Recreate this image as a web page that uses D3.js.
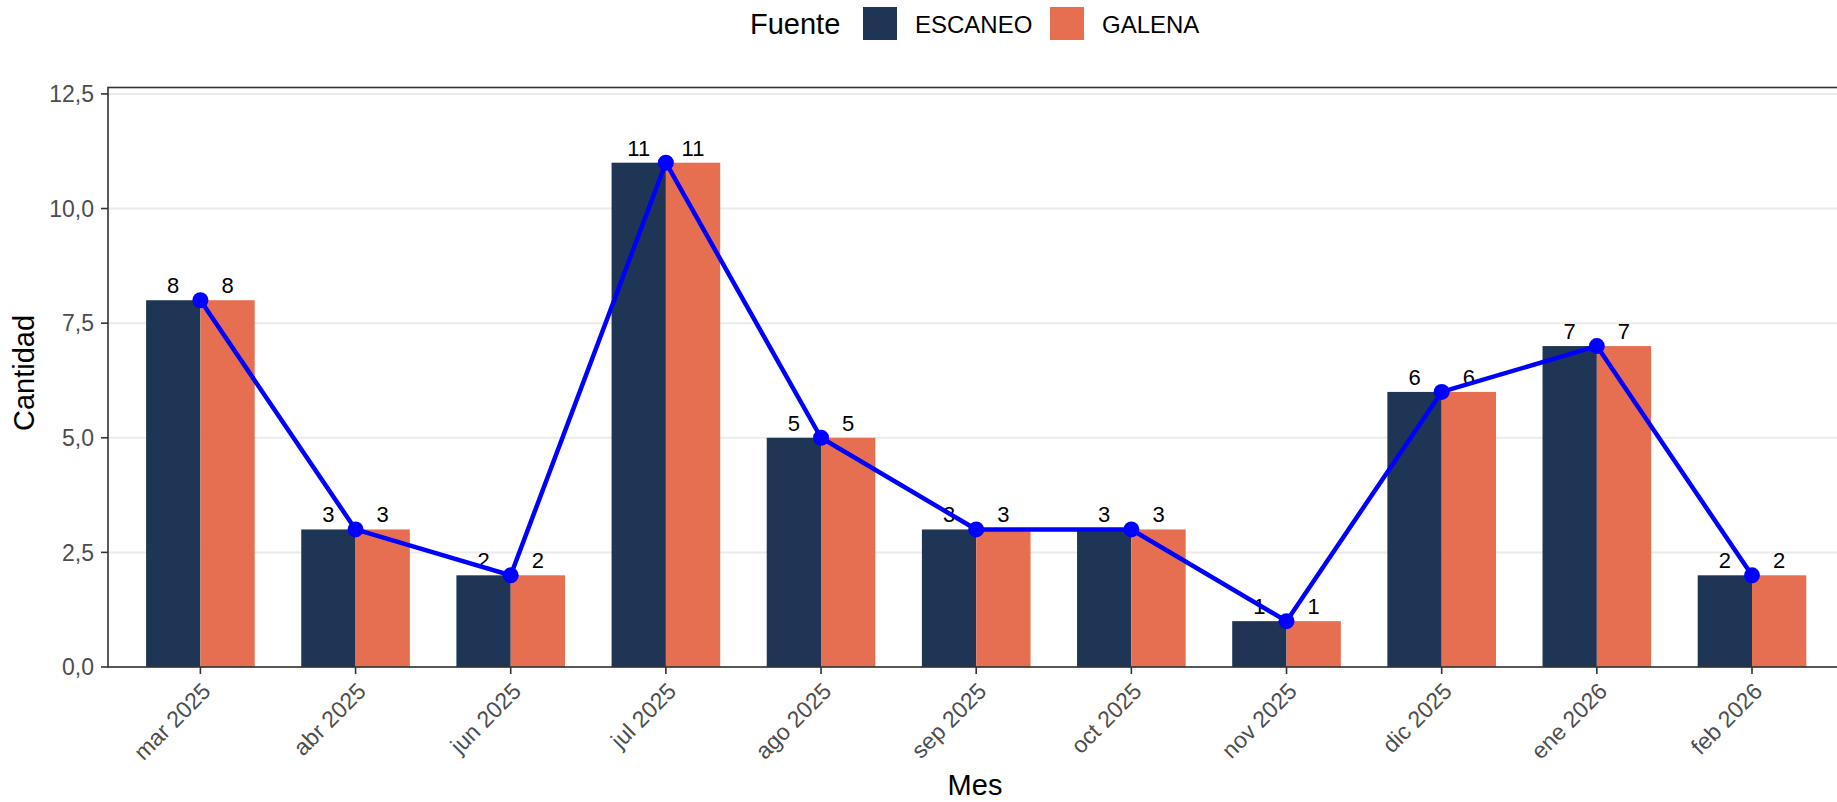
<!DOCTYPE html>
<html><head><meta charset="utf-8">
<script src="https://cdn.jsdelivr.net/npm/d3@7"></script>
<style>body{margin:0;background:#fff}svg{display:block}text{font-family:"Liberation Sans",Arial,sans-serif}</style>
</head><body>
<svg id="c" width="1837" height="802"></svg>
<script>
const months = ["mar 2025","abr 2025","jun 2025","jul 2025","ago 2025","sep 2025","oct 2025","nov 2025","dic 2025","ene 2026","feb 2026"];
const sources = ["ESCANEO","GALENA"];
const escaneo = [8,3,2,11,5,3,3,1,6,7,2];
const galena = [8,3,2,11,5,3,3,1,6,7,2];
const lineValues = [8,3,2,11,5,3,3,1,6,7,2];
const yTicks = [0,2.5,5,7.5,10,12.5];
const colors = {ESCANEO:"#1F3555", GALENA:"#E76F51"};

(function(){
const svg = d3.select("#c");
const pL = 108, pR = 1845, pT = 87.5, pB = 667;
const x = d3.scalePoint().domain(months).range([200.4, 1752]);
const step = x.step();
const xs = d3.scaleBand().domain(sources).range([-0.35*step, 0.35*step]).padding(0);
const y = d3.scaleLinear().domain([0, 12.64]).range([pB, pT]);
const fmt = v => d3.format(".1f")(v).replace(".", ",");

// grid
svg.append("g").selectAll("line").data(yTicks).join("line")
  .attr("x1", pL).attr("x2", pR).attr("y1", d=>y(d)).attr("y2", d=>y(d))
  .attr("stroke", "#EBEBEB").attr("stroke-width", 2);

// bars
const series = {ESCANEO: escaneo, GALENA: galena};
const bars = [];
months.forEach((m,i)=>sources.forEach(s=>bars.push({m, s, v: series[s][i]})));
svg.append("g").selectAll("rect").data(bars).join("rect")
  .attr("x", d=>x(d.m)+xs(d.s)).attr("width", xs.bandwidth())
  .attr("y", d=>y(d.v)).attr("height", d=>y(0)-y(d.v))
  .attr("fill", d=>colors[d.s]);

// value labels
svg.append("g").selectAll("text").data(bars).join("text")
  .attr("x", d=>x(d.m)+xs(d.s)+xs.bandwidth()/2).attr("y", d=>y(d.v)-7)
  .attr("text-anchor","middle").attr("font-size", 22).attr("fill","#000")
  .text(d=>d.v);

// line
const pts = months.map((m,i)=>({m, v: lineValues[i]}));
svg.append("path").datum(pts)
  .attr("d", d3.line().x(d=>x(d.m)).y(d=>y(d.v)))
  .attr("fill","none").attr("stroke","#0000FF").attr("stroke-width",4.5).attr("stroke-linejoin","round");
svg.append("g").selectAll("circle").data(pts).join("circle")
  .attr("cx", d=>x(d.m)).attr("cy", d=>y(d.v)).attr("r", 8).attr("fill","#0000FF");

// panel border
svg.append("rect").attr("x", pL).attr("y", pT).attr("width", pR-pL).attr("height", pB-pT)
  .attr("fill","none").attr("stroke","#333333").attr("stroke-width",1.6);

// y axis
const ya = svg.append("g");
ya.selectAll("line").data(yTicks).join("line")
  .attr("x1", pL-7).attr("x2", pL).attr("y1", d=>y(d)).attr("y2", d=>y(d))
  .attr("stroke","#333333").attr("stroke-width",1.6);
ya.selectAll("text").data(yTicks).join("text")
  .attr("x", pL-14).attr("y", d=>y(d)).attr("dy","0.36em")
  .attr("text-anchor","end").attr("font-size",23).attr("fill","#4D4D4D")
  .text(d=>fmt(d));

// x axis
const xa = svg.append("g");
xa.selectAll("line").data(months).join("line")
  .attr("x1", d=>x(d)).attr("x2", d=>x(d)).attr("y1", pB).attr("y2", pB+7)
  .attr("stroke","#333333").attr("stroke-width",1.6);
xa.selectAll("text").data(months).join("text")
  .attr("transform", d=>`translate(${x(d)},${pB+14}) rotate(-45)`)
  .attr("dy","0.72em").attr("text-anchor","end").attr("font-size",23).attr("fill","#4D4D4D")
  .text(d=>d);

// axis titles
svg.append("text").attr("x", 975).attr("y", 795).attr("text-anchor","middle")
  .attr("font-size",29).attr("fill","#000").text("Mes");
svg.append("text").attr("transform","translate(34,373) rotate(-90)").attr("text-anchor","middle")
  .attr("font-size",29).attr("fill","#000").text("Cantidad");

// legend
const lg = svg.append("g");
lg.append("text").attr("x", 750).attr("y", 24).attr("dy","0.36em").attr("font-size",29).attr("fill","#000").text("Fuente");
const keyX = [863, 1050];
sources.forEach((s,i)=>{
  lg.append("rect").attr("x", keyX[i]).attr("y", 7).attr("width", 34).attr("height", 33).attr("fill", colors[s]);
  lg.append("text").attr("x", keyX[i]+52).attr("y", 24).attr("dy","0.36em").attr("font-size",24).attr("fill","#000").text(s);
});
})();
</script>
</body></html>
